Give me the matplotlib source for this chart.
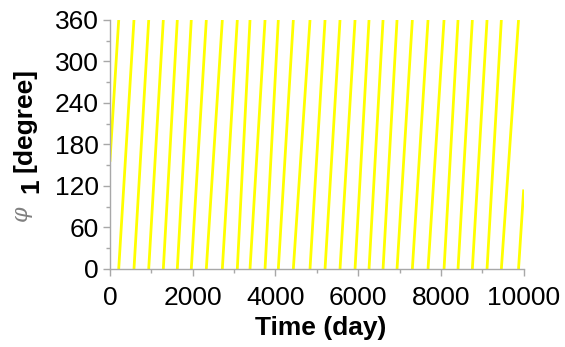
import matplotlib
matplotlib.use("Agg")
import matplotlib.pyplot as plt
from matplotlib.ticker import MultipleLocator

plt.rcParams['font.family'] = ['Liberation Sans', 'DejaVu Sans']

# phase wraps from 360 back to 0 at these times (day)
wrap_days = [213, 582, 938, 1291, 1629, 1967, 2330, 2717, 3079, 3386,
             3749, 4070, 4433, 4836, 5199, 5561, 5924, 6262, 6601, 6939,
             7309, 7688, 8075, 8413, 8759, 9114, 9460, 9875]
phi_start = 155   # degree at t = 0
phi_end = 115     # degree at t = 10000
t_start = 0
t_end = 10000

fig = plt.figure(figsize=(5.65, 3.47), dpi=100)
ax = fig.add_axes([0.1945, 0.2248, 0.7324, 0.7176])

line_color = "#ffff00"
lw = 2.0
# first partial segment
ax.plot([t_start, wrap_days[0]], [phi_start, 360], color=line_color, lw=lw,
        solid_capstyle="butt")
# full turns between wraps
for a, b in zip(wrap_days[:-1], wrap_days[1:]):
  ax.plot([a, b], [0, 360], color=line_color, lw=lw, solid_capstyle="butt")
# last partial segment
ax.plot([wrap_days[-1], t_end], [0, phi_end], color=line_color, lw=lw,
        solid_capstyle="butt")

ax.set_xlim(0, 10000)
ax.set_ylim(0, 360)
ax.xaxis.set_major_locator(MultipleLocator(2000))
ax.xaxis.set_minor_locator(MultipleLocator(1000))
ax.yaxis.set_major_locator(MultipleLocator(60))
ax.yaxis.set_minor_locator(MultipleLocator(30))

spine_color = "#a8a8a8"
for side in ["top", "right"]:
  ax.spines[side].set_visible(False)
for side in ["left", "bottom"]:
  ax.spines[side].set_color(spine_color)
  ax.spines[side].set_linewidth(1.0)

ax.tick_params(which="major", length=5, width=1.0, color=spine_color,
               labelsize=19, pad=3, direction="out")
ax.tick_params(axis="x", which="major", pad=7)
ax.tick_params(which="minor", length=3, width=1.0, color=spine_color,
               direction="out")

ax.set_xlabel("Time (day)", fontsize=19, fontweight="bold")
ax.xaxis.set_label_coords(0.51, -0.19)

# y label built from pieces: grey phi, bold subscript 1, bold [degree]
fig.text(21 / 565, 1 - 213 / 347, "\u03c6", rotation=90, fontsize=16,
         color="#808080", family="DejaVu Serif", style="italic",
         ha="center", va="center")
fig.text(31 / 565, 1 - 186 / 347, "1", rotation=90, fontsize=19,
         fontweight="bold", ha="center", va="center")
fig.text(24 / 565, 1 - 120 / 347, "[degree]", rotation=90, fontsize=19,
         fontweight="bold", ha="center", va="center")

fig.savefig("out.png", dpi=100)
